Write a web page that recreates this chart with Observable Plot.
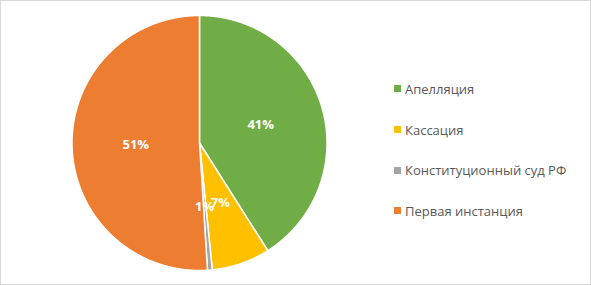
<!DOCTYPE html>
<html>
<head>
<meta charset="utf-8">
<script src="https://cdn.jsdelivr.net/npm/d3@7"></script>
<script src="https://cdn.jsdelivr.net/npm/@observablehq/plot@0.6"></script>
<style>
  html, body { margin: 0; padding: 0; background: #fff; }
  #wrap { position: relative; width: 591px; height: 285px; overflow: hidden; font-family: "Open Sans", "Noto Sans", sans-serif; }
  #wrap svg { position: absolute; left: 0; top: 0; }
  #frame { position: absolute; left: 0; top: 0; width: 591px; height: 285px; box-sizing: border-box; border: 1px solid #d9d9d9; pointer-events: none; }
  #legend { position: absolute; left: 394px; top: 68.5px; display: flex; flex-direction: column; gap: 0; }
  .item { display: flex; align-items: center; height: 40.7px; font-size: 13px; color: #595959; }
  .sw { width: 7px; height: 7px; margin-right: 4px; }
</style>
</head>
<body>
<div id="wrap"><div id="legend"></div><div id="frame"></div></div>
<script>
const categories = ["Апелляция", "Кассация", "Конституционный суд РФ", "Первая инстанция"];
const values = [41, 7.4, 0.6, 51];
const colors = ["#70AD47", "#FFC000", "#A5A5A5", "#ED7D31"];
const labels = ["41%", "7%", "1%", "51%"];

const rows = categories.map((c, i) => ({category: c, value: values[i], label: labels[i]}));
const arcs = d3.pie().sort(null).value(d => d.value)(rows);

const wedgePts = [];
const labelPts = [];
for (const a of arcs) {
  const c = a.data.category;
  wedgePts.push({category: c, x: 0, y: 0});
  const n = Math.max(2, Math.ceil((a.endAngle - a.startAngle) / 0.005));
  for (let k = 0; k <= n; k++) {
    const t = a.startAngle + (a.endAngle - a.startAngle) * k / n;
    wedgePts.push({category: c, x: Math.sin(t), y: Math.cos(t)});
  }
  wedgePts.push({category: c, x: 0, y: 0});
  const m = (a.startAngle + a.endAngle) / 2;
  labelPts.push({category: c, label: a.data.label, x: 0.5 * Math.sin(m), y: 0.5 * Math.cos(m)});
}

const chart = Plot.plot({
  width: 591,
  height: 285,
  marginLeft: 71.5,
  marginRight: 264.5,
  marginTop: 15,
  marginBottom: 15,
  x: {domain: [-1, 1], axis: null},
  y: {domain: [-1, 1], axis: null},
  color: {domain: categories, range: colors},
  style: {background: "transparent", fontFamily: "'Open Sans', 'Noto Sans', sans-serif"},
  marks: [
    Plot.line(wedgePts, {x: "x", y: "y", z: "category", fill: "category", stroke: "white", strokeWidth: 1.5, strokeLinejoin: "round", curve: "linear"}),
    Plot.text(labelPts, {x: "x", y: "y", text: "label", fill: "white", fontWeight: "bold", fontSize: 13})
  ]
});
document.getElementById("wrap").prepend(chart);

const legend = d3.select("#legend");
categories.forEach((c, i) => {
  const it = legend.append("div").attr("class", "item");
  it.append("div").attr("class", "sw").style("background", colors[i]);
  it.append("span").text(c);
});
</script>
</body>
</html>
